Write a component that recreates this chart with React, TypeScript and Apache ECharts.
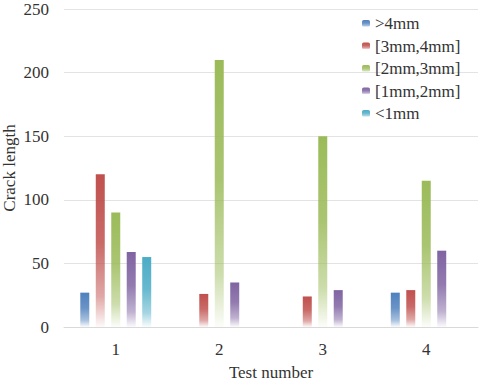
import React, { useEffect, useRef } from "react";
import * as echarts from "echarts";

const categories = ["1", "2", "3", "4"];
const seriesNames = [">4mm", "[3mm,4mm]", "[2mm,3mm]", "[1mm,2mm]", "<1mm"];
const gt4mm = [27, "-", "-", 27];
const mm3to4 = [120, 26, 24, 29];
const mm2to3 = [90, 210, 150, 115];
const mm1to2 = [59, 35, 29, 60];
const lt1mm = [55, "-", "-", "-"];
const seriesData = [gt4mm, mm3to4, mm2to3, mm1to2, lt1mm];
const colors = ["79,129,189", "192,80,77", "155,187,89", "128,100,162", "75,172,198"];
const yTicks = [0, 50, 100, 150, 200, 250];

const font = "'Liberation Serif', 'Times New Roman', serif";

function grad(rgb: string) {
  return new echarts.graphic.LinearGradient(0, 0, 0, 1, [
    { offset: 0, color: `rgba(${rgb},1)` },
    { offset: 0.45, color: `rgba(${rgb},0.85)` },
    { offset: 0.8, color: `rgba(${rgb},0.5)` },
    { offset: 1, color: `rgba(${rgb},0.03)` },
  ]);
}

export default function App() {
  const ref = useRef<HTMLDivElement>(null);
  useEffect(() => {
    if (!ref.current) return;
    const chart = echarts.init(ref.current, undefined, { renderer: "svg" });
    chart.setOption({
      animation: false,
      backgroundColor: "#ffffff",
      textStyle: { fontFamily: font },
      grid: { left: 64, right: 2, top: 9, bottom: 56, outerBoundsMode: "none", containLabel: false },
      legend: {
        orient: "vertical",
        left: 357,
        top: 10,
        itemWidth: 8,
        itemHeight: 7,
        itemGap: 5.5,
        data: seriesNames,
        textStyle: { fontFamily: font, fontSize: 17, color: "#333333" },
      },
      xAxis: {
        type: "category",
        data: categories,
        name: "Test number",
        nameLocation: "middle",
        nameGap: 37,
        nameMoveOverlap: false,
        nameTextStyle: { fontFamily: font, fontSize: 17, color: "#333333" },
        axisLine: { lineStyle: { color: "#d9d9d9" } },
        axisTick: { show: false },
        axisLabel: { fontFamily: font, fontSize: 17, color: "#333333", margin: 14 },
      },
      yAxis: {
        type: "value",
        min: yTicks[0],
        max: yTicks[yTicks.length - 1],
        interval: 50,
        name: "Crack length",
        nameLocation: "middle",
        nameGap: 46,
        nameMoveOverlap: false,
        nameRotate: 90,
        nameTextStyle: { fontFamily: font, fontSize: 17, color: "#333333" },
        axisLine: { show: false },
        axisTick: { show: false },
        splitLine: { lineStyle: { color: "#e3e3e3" } },
        axisLabel: { fontFamily: font, fontSize: 17, color: "#333333", margin: 15 },
      },
      series: seriesNames.map((name, i) => ({
        name,
        type: "bar",
        data: seriesData[i],
        barWidth: 9,
        barGap: "72%",
        itemStyle: { color: grad(colors[i]) },
      })),
    });
    return () => chart.dispose();
  }, []);
  return <div ref={ref} style={{ width: 480, height: 383, position: "absolute", left: 0, top: 0 }} />;
}
